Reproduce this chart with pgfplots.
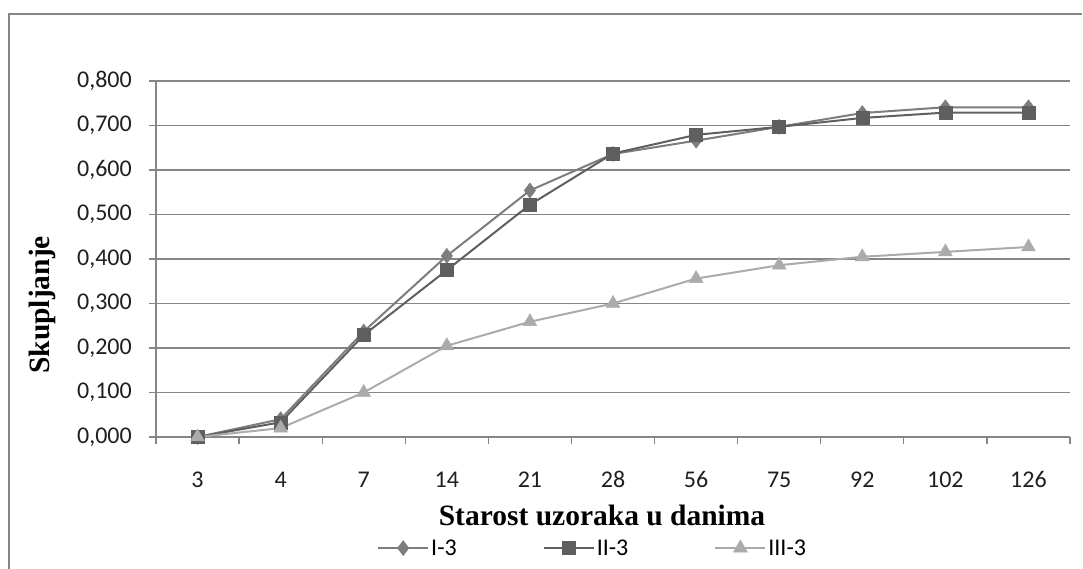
\documentclass[border=0pt]{standalone}
\usepackage{fontspec}
\setmainfont{Carlito}
\newfontfamily\titlefont{Liberation Serif}
\usepackage{pgfplots}
\pgfplotsset{compat=1.18}
\definecolor{gridc}{HTML}{868686}
\definecolor{cone}{HTML}{7D7D7D}
\definecolor{ctwo}{HTML}{5F5F5F}
\definecolor{cthree}{HTML}{ABABAB}
\begin{document}
\begin{tikzpicture}[x=1pt,y=1pt]
\useasboundingbox (0,0) rectangle (1083,569);
\draw[color=gridc, line width=2pt] (9,0) -- (9,555) -- (1082,555);
\begin{axis}[
  at={(156pt,132pt)}, anchor=south west,
  scale only axis, width=914pt, height=356pt,
  xmin=-0.5, xmax=10.5, ymin=0, ymax=0.8,
  axis lines=left, axis line style={-, color=gridc, line width=1.2pt},
  xtick={0,...,10},
  xticklabels={3,4,7,14,21,28,56,75,92,102,126},
  major x tick style={draw=none},
  minor xtick={-0.5,0.5,...,10.5},
  minor tick length=7pt,
  minor x tick style={color=gridc, line width=1.2pt},
  ytick={0,0.1,...,0.8},
  tick align=outside, major tick length=7pt,
  y tick style={color=gridc, line width=1.2pt},
  ymajorgrids, grid style={color=gridc, line width=1.2pt},
  /pgf/number format/assume math mode=true,
  /pgf/number format/fixed,
  /pgf/number format/fixed zerofill,
  /pgf/number format/precision=3,
  /pgf/number format/use comma,
  ticklabel style={font=\fontsize{24}{27}\selectfont, color=black!88},
  xticklabel style={anchor=base, inner sep=0pt, yshift=-44pt},
  yticklabel style={anchor=east, inner sep=0pt, xshift=-17pt},
  xlabel={Starost uzoraka u danima},
  ylabel={Skupljanje},
  label style={font=\titlefont\bfseries\fontsize{29.5}{31}\selectfont},
  xlabel style={at={(axis description cs:0.488,-0.219)}, anchor=center},
  ylabel style={at={(axis description cs:-0.124,0.371)}, anchor=center, rotate=0},
  legend columns=3,
  legend style={at={(axis description cs:0.2418,-0.312)}, anchor=west, draw=none,
    inner sep=0pt, font=\fontsize{24}{27}\selectfont, nodes={inner sep=2pt},
    /tikz/every even column/.append style={column sep=84pt}},
  legend image code/.code={\draw[mark repeat=2, mark phase=2, #1] plot coordinates {(0pt,0pt) (25pt,0pt) (50pt,0pt)};},
]
\addplot[color=cone, line width=2pt, mark=diamond*, mark size=7.5pt, mark options={fill=cone, draw=cone, line width=0.5pt}]
 coordinates {(0,0) (1,0.040) (2,0.237) (3,0.407) (4,0.554) (5,0.636) (6,0.666) (7,0.697) (8,0.728) (9,0.741) (10,0.741)};
\addlegendentry{I-3}
\addplot[color=ctwo, line width=2pt, mark=square*, mark size=6.5pt, mark options={fill=ctwo, draw=ctwo, line width=0.5pt}]
 coordinates {(0,0) (1,0.033) (2,0.229) (3,0.375) (4,0.522) (5,0.637) (6,0.679) (7,0.697) (8,0.717) (9,0.729) (10,0.729)};
\addlegendentry{II-3}
\addplot[color=cthree, line width=2pt, mark=triangle*, mark size=8pt, mark options={fill=cthree, draw=cthree, line width=0.5pt}]
 coordinates {(0,0) (1,0.020) (2,0.100) (3,0.205) (4,0.259) (5,0.300) (6,0.356) (7,0.386) (8,0.405) (9,0.416) (10,0.427)};
\addlegendentry{III-3}
\end{axis}
\end{tikzpicture}
\end{document}
